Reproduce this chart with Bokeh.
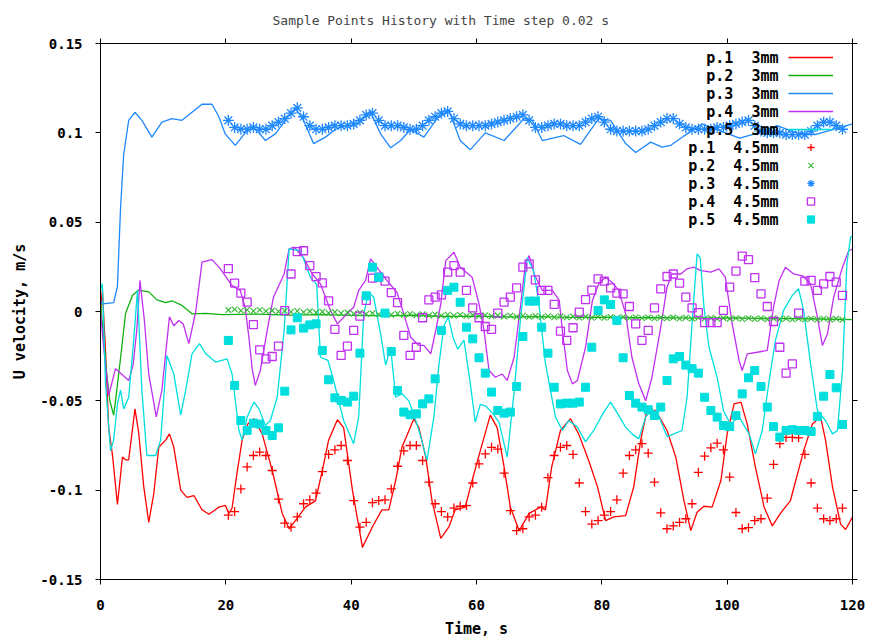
from bokeh.plotting import figure
from bokeh.models import (LinearAxis, FixedTicker, Range1d, Legend, LegendItem,
                          Label, CustomJSTickFormatter)
from bokeh.embed import file_html
from bokeh.resources import INLINE

# ---------------- data ----------------
title_text = "Sample Points History with Time step 0.02 s"
x_ticks = [0, 20, 40, 60, 80, 100, 120]
y_ticks = [-0.15, -0.1, -0.05, 0, 0.05, 0.1, 0.15]
y_tick_labels = ["-0.15", "-0.1", "-0.05", "0", "0.05", "0.1", "0.15"]

NB = "\u00a0\u00a0"
series_names = ["p.1" + NB + "3mm", "p.2" + NB + "3mm", "p.3" + NB + "3mm", "p.4" + NB + "3mm",
                "p.5" + NB + "3mm", "p.1" + NB + "4.5mm", "p.2" + NB + "4.5mm", "p.3" + NB + "4.5mm",
                "p.4" + NB + "4.5mm", "p.5" + NB + "4.5mm"]

# 3mm (lines)
t_p1 = [0, 0.3, 0.8, 1.3, 1.9, 2.7, 3.5, 4.0, 4.5, 5.5, 6.1, 6.9, 7.7, 8.5, 9.3, 10.4, 11.0, 11.7, 12.8, 13.8,
        14.9, 16.2, 17.3, 18.9, 19.9, 20.5, 21.0, 21.8, 22.6, 23.5, 24.5, 25.8, 27.4, 29.0, 30.1, 31.1, 32.7, 34.3,
        35.4, 36.4, 37.8, 38.8, 40.2, 41.8, 43.4, 44.9, 46.0, 47.1, 48.1, 50.0, 50.8, 51.9, 52.9, 54.3, 55.6, 56.6,
        58.2, 59.3, 60.6, 62.2, 63.3, 64.4, 65.4, 66.8, 68.4, 70.2, 71.0, 72.0, 73.4, 75.0, 76.3, 77.9, 79.3, 80.6,
        81.9, 83.8, 85.1, 86.2, 87.2, 88.6, 90.4, 91.8, 93.1, 94.2, 95.2, 96.3, 97.6, 99.0, 100.0, 101.1, 102.2,
        103.2, 104.5, 105.9, 107.2, 108.5, 110.1, 112.2, 113.6, 114.9, 115.7, 116.8, 118.1, 118.9, 120]
v_p1 = [0.0, 0.012, -0.022, -0.065, -0.080, -0.108, -0.0815, -0.083, -0.083, -0.0545, -0.068, -0.098, -0.118,
        -0.102, -0.076, -0.072, -0.0685, -0.076, -0.100, -0.104, -0.103, -0.111, -0.1135, -0.1095, -0.1085, -0.113,
        -0.110, -0.090, -0.072, -0.063, -0.060, -0.0685, -0.089, -0.113, -0.1216, -0.117, -0.1095, -0.106, -0.089,
        -0.072, -0.0606, -0.065, -0.100, -0.132, -0.1205, -0.111, -0.111, -0.0946, -0.076, -0.0601, -0.065, -0.0815,
        -0.106, -0.127, -0.1205, -0.111, -0.1095, -0.0946, -0.078, -0.058, -0.065, -0.087, -0.1095, -0.1226, -0.113,
        -0.1095, -0.111, -0.087, -0.0666, -0.060, -0.0685, -0.0834, -0.098, -0.117, -0.115, -0.1142, -0.098, -0.072,
        -0.0554, -0.0554, -0.0666, -0.0815, -0.1058, -0.1226, -0.1123, -0.109, -0.1095, -0.0946, -0.0685, -0.0517,
        -0.0507, -0.063, -0.087, -0.1095, -0.120, -0.113, -0.1058, -0.078, -0.063, -0.059, -0.072, -0.098, -0.119,
        -0.122, -0.115]

t_p2 = [0, 0.5, 1.0, 1.5, 2.1, 2.4, 3.2, 4.0, 5.1, 6.1, 7.7, 9.0, 10.4, 11.4, 13.0, 14.6, 16.8, 19.4, 25, 30,
        35, 40, 45, 50, 55, 60, 65, 70, 75, 80, 85, 90, 95, 100, 105, 110, 115, 120]
v_p2 = [0.005, -0.015, -0.035, -0.050, -0.058, -0.050, -0.026, -0.001, 0.009, 0.012, 0.011, 0.0065, 0.005, 0.006,
        0.0034, -0.0013, -0.001, -0.0017, -0.0015, -0.002, -0.0018, -0.0022, -0.0025, -0.0021, -0.0028, -0.0026,
        -0.003, -0.0029, -0.0033, -0.0031, -0.0035, -0.0034, -0.0037, -0.0036, -0.0039, -0.004, -0.0042, -0.0045]

t_p3 = [0, 0.3, 2.1, 2.7, 3.2, 3.7, 4.5, 5.5, 6.6, 8.2, 9.8, 11.4, 13.0, 14.6, 16.2, 17.8, 18.9, 19.9, 21.5, 23.1,
        24.2, 25.3, 26.3, 27.9, 29.5, 31.1, 32.4, 34.0, 35.9, 37.5, 39.1, 40.7, 43.1, 44.7, 46.3, 47.9, 49.5, 51.6,
        53.7, 55.6, 57.4, 59.0, 61.4, 64.4, 67.6, 68.9, 70.5, 73.9, 76.6, 79.5, 81.4, 83.8, 85.4, 87.8, 89.6, 91.0,
        93.0, 96.0, 99.0, 102.0, 105.0, 108.0, 111.0, 114.0, 117.0, 120.0]
v_p3 = [0.006, 0.0043, 0.005, 0.014, 0.058, 0.088, 0.107, 0.1115, 0.107, 0.0976, 0.106, 0.108, 0.107, 0.1115, 0.116,
        0.116, 0.109, 0.0994, 0.093, 0.100, 0.103, 0.100, 0.0957, 0.0994, 0.107, 0.114, 0.107, 0.094, 0.0976, 0.102,
        0.104, 0.104, 0.1116, 0.0994, 0.0916, 0.0957, 0.102, 0.0976, 0.108, 0.1125, 0.0957, 0.0905, 0.100, 0.0957,
        0.108, 0.107, 0.0957, 0.0985, 0.0935, 0.108, 0.107, 0.094, 0.089, 0.0948, 0.092, 0.093, 0.098, 0.105, 0.101,
        0.097, 0.100, 0.104, 0.100, 0.099, 0.102, 0.105]

t_p4 = [0, 0.5, 1.3, 2.4, 4.5, 5.2, 5.8, 6.3, 7.0, 7.7, 8.9, 9.8, 11.0, 11.7, 12.5, 13.2, 14.1, 15.2, 16.2, 17.8,
        19.1, 21.0, 22.3, 23.1, 23.7, 24.2, 24.7, 25.5, 26.6, 27.6, 29.3, 30.1, 30.9, 32.4, 33.8, 35.1, 36.7, 37.8,
        38.8, 40.4, 41.2, 42.3, 43.1, 44.1, 45.7, 47.3, 48.4, 49.5, 50.8, 51.6, 52.7, 53.5, 54.3, 55.1, 56.4, 57.4,
        59.3, 60.4, 61.2, 62.0, 63.0, 64.1, 64.9, 66.0, 67.0, 67.8, 68.4, 69.2, 70.5, 72.1, 73.2, 73.7, 74.5, 75.3,
        76.1, 77.4, 78.5, 79.5, 80.6, 81.6, 82.7, 83.8, 84.8, 85.9, 87.0, 88.0, 89.4, 90.4, 91.2, 92.6, 93.6, 94.7,
        95.7, 97.4, 98.7, 99.7, 100.8, 101.9, 102.4, 103.2, 104.8, 106.4, 107.4, 108.3, 109.3, 110.6, 112.0, 113.3,
        114.4, 115.2, 116.0, 117.0, 118.4, 119.4, 120]
v_p4 = [0.0, -0.02, -0.047, -0.032, -0.0386, -0.030, -0.010, 0.0174, -0.005, -0.035, -0.059, -0.044, -0.003, -0.008,
        -0.005, -0.007, -0.018, 0.0, 0.0276, 0.029, 0.024, 0.0145, 0.0118, 0.002, -0.015, -0.032, -0.0414, -0.033,
        -0.0106, 0.008, 0.021, 0.035, 0.036, 0.030, 0.021, 0.0155, 0.0006, -0.0069, -0.0032, 0.0024, 0.0118, 0.0174,
        0.0295, 0.0248, 0.0174, 0.0108, -0.0013, -0.0144, -0.019, -0.019, -0.0237, -0.0106, 0.0043, 0.0285, 0.0332,
        0.0248, 0.0192, 0.0043, -0.0106, -0.033, -0.0368, -0.035, -0.0386, -0.0256, 0.0024, 0.0267, 0.0313, 0.021,
        0.0118, 0.0118, 0.0062, -0.0106, -0.033, -0.0405, -0.0386, -0.020, 0.0062, 0.0155, 0.0192, 0.0164, 0.0118,
        -0.0013, -0.0256, -0.0405, -0.050, -0.0368, -0.0088, 0.0136, 0.021, 0.021, 0.0239, 0.0248, 0.023, 0.022,
        0.0239, 0.0192, -0.0069, -0.0274, -0.033, -0.0237, -0.0228, -0.0218, 0.0024, 0.0174, 0.0248, 0.021, 0.020,
        0.0155, -0.0032, -0.019, -0.0125, 0.008, 0.0248, 0.034, 0.035]

t_p5 = [0, 0.3, 0.8, 1.6, 2.1, 2.7, 3.2, 3.7, 4.5, 5.3, 5.9, 6.6, 7.4, 8.8, 9.6, 10.6, 11.7, 12.8, 13.6, 14.6,
        15.8, 16.8, 18.4, 20.2, 21.0, 22.1, 22.6, 23.4, 24.5, 25.3, 26.3, 27.1, 28.2, 29.3, 30.1, 31.9, 33.5, 34.5,
        35.1, 36.3, 37.2, 38.8, 40.4, 41.2, 42.0, 42.8, 43.6, 44.7, 45.5, 46.3, 47.1, 48.1, 49.2, 50.3, 51.1, 52.1,
        53.2, 54.0, 54.8, 55.5, 56.3, 57.0, 58.0, 59.0, 59.8, 60.6, 61.5, 62.6, 63.6, 64.9, 66.0, 67.0, 68.1, 69.1,
        69.9, 71.0, 72.6, 73.7, 74.7, 76.1, 77.4, 78.7, 80.3, 81.4, 82.5, 83.8, 84.8, 85.9, 87.0, 88.0, 88.8, 90.4,
        91.5, 92.8, 93.6, 94.4, 95.2, 95.7, 96.3, 97.1, 98.4, 99.4, 100.5, 101.9, 103.5, 104.5, 105.6, 106.7, 107.7,
        109.0, 110.4, 111.4, 112.2, 113.3, 114.4, 115.7, 116.8, 117.6, 118.4, 119.1, 119.7, 120]
v_p5 = [0.012, 0.0155, -0.040, -0.078, -0.072, -0.0517, -0.044, -0.0545, -0.048, -0.016, 0.0118, -0.044, -0.0806,
        -0.0806, -0.072, -0.0246, -0.035, -0.058, -0.044, -0.0237, -0.018, -0.0237, -0.0284, -0.0265, -0.035, -0.0666,
        -0.072, -0.059, -0.0507, -0.0545, -0.0638, -0.061, -0.048, -0.0106, 0.035, 0.034, 0.0192, 0.015, -0.0256,
        -0.0274, -0.0386, -0.061, -0.074, -0.059, -0.0013, 0.0108, 0.008, -0.0125, -0.030, -0.020, -0.048, -0.046,
        -0.050, -0.061, -0.070, -0.0834, -0.059, -0.030, -0.008, -0.003, -0.015, -0.021, -0.016, -0.040, -0.062,
        -0.052, -0.053, -0.057, -0.062, -0.0815, -0.045, -0.005, 0.030, 0.023, 0.006, -0.029, -0.059, -0.0666, -0.061,
        -0.0647, -0.073, -0.0666, -0.0563, -0.0507, -0.057, -0.0647, -0.0685, -0.0713, -0.059, -0.0554, -0.056, -0.070,
        -0.0685, -0.0666, -0.048, -0.0069, 0.0323, 0.030, 0.0024, -0.020, -0.0368, -0.0554, -0.063, -0.059, -0.0685,
        -0.0797, -0.0666, -0.0386, -0.0162, 0.0006, 0.009, 0.0127, 0.0006, -0.029, -0.0554, -0.061, -0.0685, -0.0666,
        -0.033, 0.0267, 0.0416, 0.042]

# 4.5mm (points), sampled every second from t = 20.4 s
t_45 = [round(20.4 + k, 1) for k in range(99)]
s_p1 = [-0.114, -0.112, -0.0993, -0.087, -0.0806, -0.0787, -0.0806, -0.089, -0.105, -0.1185,
        -0.1207, -0.115, -0.1076, -0.1054, -0.1017, -0.0896, -0.080, -0.0774, -0.075, -0.0834,
        -0.1058, -0.1207, -0.118, -0.107, -0.1058, -0.1054, -0.0993, -0.0866, -0.078, -0.075,
        -0.075, -0.0834, -0.0955, -0.1076, -0.112, -0.115, -0.110, -0.109, -0.1086, -0.096,
        -0.0853, -0.0797, -0.076, -0.077, -0.0905, -0.1114, -0.1226, -0.1216, -0.115, -0.114,
        -0.1095, -0.093, -0.0806, -0.076, -0.075, -0.080, -0.096, -0.112, -0.119, -0.117,
        -0.114, -0.112, -0.1054, -0.0905, -0.0806, -0.0774, -0.074, -0.0793, -0.0955, -0.1127,
        -0.1216, -0.120, -0.118, -0.116, -0.1076, -0.090, -0.081, -0.0763, -0.0737, -0.0774,
        -0.0927, -0.1125, -0.1216, -0.121, -0.117, -0.116, -0.1045, -0.0856, -0.074, -0.0705,
        -0.0705, -0.0707, -0.080, -0.096, -0.110, -0.116, -0.117, -0.116, -0.110]
s_p2 = [0.0008, 0.0012, 0.0005, 0.0010, 0.0003, 0.0009, 0.0002, 0.0006, 0.0000, 0.0004,
        -0.0002, 0.0003, -0.0004, 0.0001, -0.0006, -0.0001, -0.0008, -0.0003, -0.0010, -0.0005,
        -0.0012, -0.0007, -0.0014, -0.0009, -0.0016, -0.0011, -0.0018, -0.0012, -0.0019, -0.0014,
        -0.0021, -0.0015, -0.0022, -0.0017, -0.0023, -0.0018, -0.0024, -0.0019, -0.0025, -0.0020,
        -0.0026, -0.0021, -0.0027, -0.0022, -0.0028, -0.0023, -0.0029, -0.0024, -0.0030, -0.0025,
        -0.0031, -0.0026, -0.0032, -0.0027, -0.0033, -0.0028, -0.0034, -0.0029, -0.0035, -0.0030,
        -0.0035, -0.0031, -0.0036, -0.0031, -0.0037, -0.0032, -0.0037, -0.0033, -0.0038, -0.0034,
        -0.0038, -0.0034, -0.0039, -0.0035, -0.0040, -0.0035, -0.0040, -0.0036, -0.0041, -0.0036,
        -0.0041, -0.0037, -0.0042, -0.0037, -0.0042, -0.0038, -0.0043, -0.0038, -0.0043, -0.0039,
        -0.0044, -0.0039, -0.0044, -0.0040, -0.0045, -0.0040, -0.0045, -0.0041, -0.0046]
s_p3 = [0.107, 0.103, 0.102, 0.102, 0.103, 0.102, 0.102, 0.104, 0.106, 0.108,
        0.111, 0.114, 0.109, 0.104, 0.102, 0.102, 0.103, 0.104, 0.104, 0.104,
        0.105, 0.107, 0.110, 0.111, 0.107, 0.104, 0.104, 0.104, 0.103, 0.102,
        0.102, 0.104, 0.107, 0.109, 0.111, 0.112, 0.108, 0.105, 0.104, 0.104,
        0.104, 0.104, 0.105, 0.106, 0.107, 0.108, 0.109, 0.110, 0.107, 0.103,
        0.103, 0.104, 0.105, 0.105, 0.104, 0.104, 0.104, 0.106, 0.108, 0.109,
        0.106, 0.102, 0.101, 0.101, 0.101, 0.101, 0.101, 0.102, 0.104, 0.106,
        0.108, 0.108, 0.105, 0.103, 0.102, 0.102, 0.102, 0.102, 0.103, 0.103,
        0.104, 0.105, 0.106, 0.107, 0.104, 0.101, 0.100, 0.100, 0.100, 0.099,
        0.099, 0.099, 0.099, 0.101, 0.104, 0.106, 0.106, 0.104, 0.102]
s_p4 = [0.024, 0.0159, 0.0103, 0.0052, -0.0073, -0.0215, -0.0265, -0.0252, -0.0194, 0.0005,
        0.021, 0.0335, 0.034, 0.0257, 0.0195, 0.016, 0.006, -0.010, -0.0246, -0.0194,
        -0.0106, -0.0026, 0.0062, 0.0187, 0.0192, 0.017, 0.0106, 0.005, -0.0134, -0.0246,
        -0.020, -0.0035, 0.0065, 0.008, 0.0093, 0.022, 0.0257, 0.022, 0.0118, 0.002,
        -0.0035, -0.0084, -0.010, -0.0009, 0.0052, 0.008, 0.0132, 0.0248, 0.0267, 0.0177,
        0.0118, 0.0118, 0.004, -0.011, -0.0162, -0.0091, -0.0004, 0.0067, 0.012, 0.0183,
        0.017, 0.0132, 0.0103, 0.0099, 0.0028, -0.0069, -0.0162, -0.0106, 0.002, 0.0127,
        0.0196, 0.021, 0.0159, 0.008, 0.002, -0.0006, -0.0062, -0.0062, -0.0062, 0.0006,
        0.0136, 0.0226, 0.031, 0.029, 0.019, 0.0099, 0.0028, -0.0056, -0.020, -0.0345,
        -0.0293, -0.0009, 0.017, 0.0174, 0.0118, 0.0155, 0.0196, 0.0164, 0.009]
s_p5 = [-0.0162, -0.0414, -0.061, -0.0666, -0.0625, -0.063, -0.0666, -0.0694, -0.0651, -0.0446,
        -0.0103, -0.0035, -0.0093, -0.0075, -0.0069, -0.0218, -0.0382, -0.0483, -0.0498, -0.0507,
        -0.0474, -0.0233, 0.0088, 0.0248, 0.0192, -0.0009, -0.0224, -0.0442, -0.0563, -0.0578,
        -0.0573, -0.0517, -0.0489, -0.0377, -0.0106, 0.0118, 0.0136, 0.0052, -0.0088, -0.0153,
        -0.0259, -0.0345, -0.0451, -0.0554, -0.0569, -0.0563, -0.042, -0.014, 0.0058, 0.0058,
        -0.0088, -0.0233, -0.0424, -0.0517, -0.0513, -0.0513, -0.0507, -0.0424, -0.020, 0.0006,
        0.0065, 0.0039, -0.005, -0.0259, -0.047, -0.0513, -0.0535, -0.055, -0.0582, -0.0535,
        -0.0386, -0.0265, -0.0252, -0.030, -0.032, -0.0345, -0.048, -0.0554, -0.0591, -0.0638,
        -0.0644, -0.0582, -0.0461, -0.0371, -0.033, -0.042, -0.0535, -0.0644, -0.0703, -0.0666,
        -0.0662, -0.0666, -0.0666, -0.0672, -0.0588, -0.0474, -0.0353, -0.0427, -0.0632]

# ---------------- style ----------------
FONT = "DejaVu Sans Mono"
RED, GREEN, BLUE, PURPLE, CYAN = "#FF0000", "#10B010", "#1E88FF", "#C030F0", "#00DEDE"
X0, X1, Y0, Y1 = 0, 120, -0.15, 0.15
FW, FH = 752, 536
FRAME_LEFT, FRAME_TOP = 100, 43


def pair(t, v):
    n = min(len(t), len(v))
    return list(t[:n]), list(v[:n])


def px_to_x(px):
    return X0 + (px - FRAME_LEFT) / FW * (X1 - X0)


def py_to_y(py):
    return Y1 - (py - FRAME_TOP) / FH * (Y1 - Y0)


p = figure(frame_width=FW, frame_height=FH, min_border_left=FRAME_LEFT, min_border_right=15,
           min_border_top=FRAME_TOP, min_border_bottom=60,
           x_range=Range1d(X0, X1), y_range=Range1d(Y0, Y1),
           output_backend="svg", toolbar_location=None, title=title_text)
p.title.text_font = FONT
p.title.text_font_size = "13px"
p.title.text_font_style = "normal"
p.title.align = "left"
p.title.offset = 172
p.title.standoff = 17
p.title.vertical_align = "top"
p.grid.visible = False
p.outline_line_color = "black"
p.outline_line_width = 1
p.background_fill_color = "white"
p.border_fill_color = "white"


def base_axis(ax, ticks):
    ax.ticker = FixedTicker(ticks=ticks)
    ax.major_tick_out = 5
    ax.major_tick_in = 0
    ax.minor_tick_out = 0
    ax.minor_tick_in = 0
    ax.axis_line_color = "black"
    ax.major_tick_line_color = "black"
    ax.major_label_text_font = FONT
    ax.major_label_text_font_size = "14px"
    ax.major_label_text_font_style = "bold"
    ax.major_label_text_color = "black"
    ax.axis_label_text_font = FONT
    ax.axis_label_text_font_size = "15px"
    ax.axis_label_text_font_style = "bold"
    ax.axis_label_text_color = "black"


xa = p.xaxis[0]
base_axis(xa, x_ticks)
xa.axis_label = "Time, s"
xa.major_label_standoff = 15
xa.axis_label_standoff = 7

ya = p.yaxis[0]
base_axis(ya, y_ticks)
ya.major_label_overrides = {t: s for t, s in zip(y_ticks, y_tick_labels)}
ya.axis_label = "U velocity, m/s"
ya.major_label_standoff = 13
ya.axis_label_standoff = 8

blank = CustomJSTickFormatter(code="return ''")
top_ax = LinearAxis(formatter=blank)
base_axis(top_ax, x_ticks)
top_ax.major_label_standoff = 0
top_ax.major_label_text_font_size = "1px"
p.add_layout(top_ax, "above")
right_ax = LinearAxis(formatter=blank)
base_axis(right_ax, y_ticks)
right_ax.major_label_standoff = 0
right_ax.major_label_text_font_size = "1px"
p.add_layout(right_ax, "right")

renderers = []
for (t, v), col in zip([pair(t_p1, v_p1), pair(t_p2, v_p2), pair(t_p3, v_p3),
                        pair(t_p4, v_p4), pair(t_p5, v_p5)],
                       [RED, GREEN, BLUE, PURPLE, CYAN]):
    renderers.append(p.line(t, v, line_color=col, line_width=1.3))

tt, yy = pair(t_45, s_p1)
renderers.append(p.scatter(tt, yy, marker="cross", size=9, line_color=RED, line_width=1.3))
tt, yy = pair(t_45, s_p2)
renderers.append(p.scatter(tt, yy, marker="x", size=8, line_color="#30B830", line_width=1.1))
tt, yy = pair(t_45, s_p3)
renderers.append(p.scatter(tt, yy, marker="asterisk", size=11, line_color=BLUE, line_width=1.3))
tt, yy = pair(t_45, s_p4)
renderers.append(p.scatter(tt, yy, marker="square", size=8, line_color=PURPLE, fill_color=None, line_width=1.3))
tt, yy = pair(t_45, s_p5)
renderers.append(p.scatter(tt, yy, marker="square", size=8, line_color=CYAN, fill_color=CYAN))

# legend: glyph samples (gnuplot style: text on the left, sample on the right)
ROW = 18
legend = Legend(items=[LegendItem(label=" ", renderers=[r]) for r in renderers],
                location=(688, FH - 5 - ROW * len(renderers)),
                glyph_width=45, glyph_height=ROW, label_height=ROW, label_width=1,
                label_standoff=0, spacing=0, padding=0, margin=0,
                border_line_alpha=0, background_fill_alpha=0,
                label_text_font_size="1px")
p.add_layout(legend)

for i, name in enumerate(series_names):
    p.add_layout(Label(x=px_to_x(778), y=py_to_y(FRAME_TOP + 5 + ROW / 2 + ROW * i), text=name,
                       text_align="right", text_baseline="middle",
                       text_font=FONT, text_font_size="15px", text_font_style="bold",
                       text_color="black"))

open("out.html", "w").write(file_html(p, INLINE))
